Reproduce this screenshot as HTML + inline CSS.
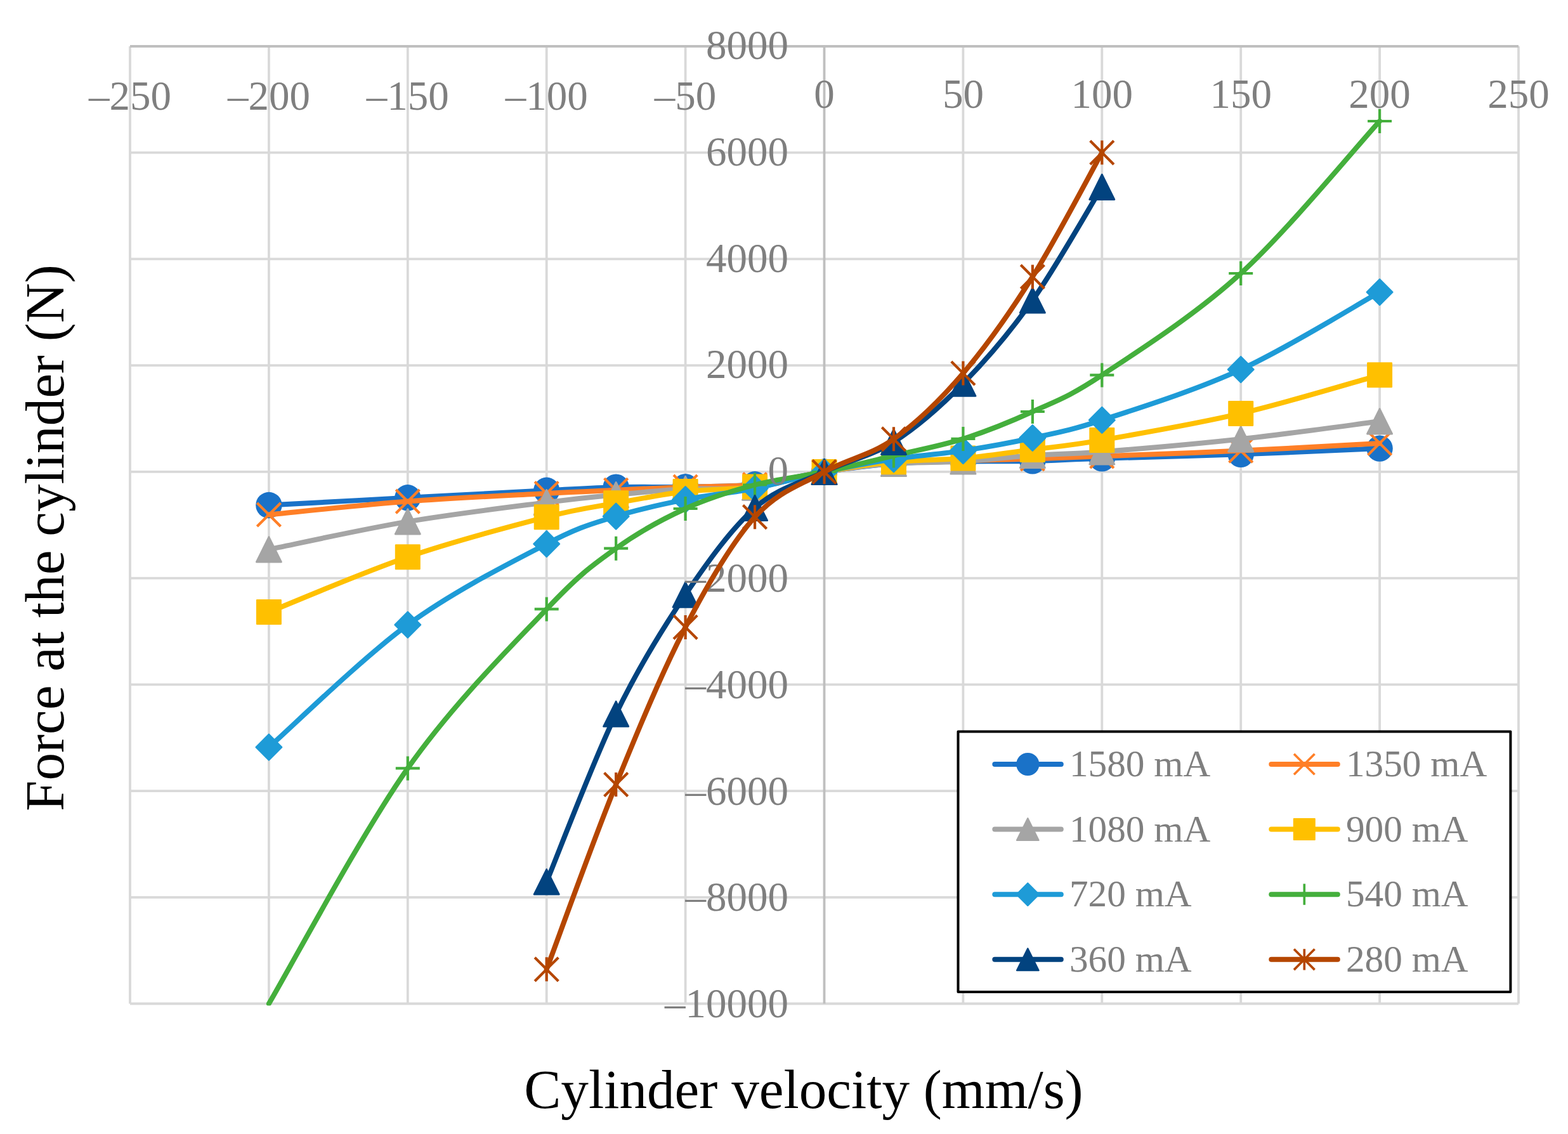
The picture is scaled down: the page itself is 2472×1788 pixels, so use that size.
<!DOCTYPE html><html><head><meta charset="utf-8"><title>Force vs velocity</title><style>html,body{margin:0;padding:0;background:#fff;overflow:hidden;}svg{display:block;}text{font-family:"Liberation Serif", "Times New Roman", serif;}</style></head><body>
<svg width="2472" height="1788" viewBox="0 0 2472 1788">
<rect width="2472" height="1788" fill="#fff"/>
<path d="M205.00,73.00V1582.50M423.90,73.00V1582.50M642.80,73.00V1582.50M861.70,73.00V1582.50M1080.60,73.00V1582.50M1518.40,73.00V1582.50M1737.30,73.00V1582.50M1956.20,73.00V1582.50M2175.10,73.00V1582.50M2394.00,73.00V1582.50M205.00,240.72H2394.00M205.00,408.44H2394.00M205.00,576.17H2394.00M205.00,743.89H2394.00M205.00,911.61H2394.00M205.00,1079.33H2394.00M205.00,1247.06H2394.00M205.00,1414.78H2394.00M205.00,1582.50H2394.00" stroke="#D9D9D9" stroke-width="3.80" fill="none"/>
<path d="M1299.50,73.00V1582.50 M205.00,73.00H2394.00" stroke="#BFBFBF" stroke-width="3.80" fill="none"/>
<defs><clipPath id="pa"><rect x="175.00" y="43.00" width="2249.00" height="1542.50"/></clipPath></defs>
<path d="M423.90,796.50 C460.38,794.55 569.83,788.67 642.80,784.80 C715.77,780.93 806.98,776.07 861.70,773.30 C916.43,770.53 934.67,769.13 971.15,768.20 C1007.63,767.27 1044.12,768.43 1080.60,767.70 C1117.08,766.97 1153.57,767.75 1190.05,763.80 C1226.53,759.85 1263.02,749.47 1299.50,744.00 C1335.98,738.53 1372.47,733.75 1408.95,731.00 C1445.43,728.25 1481.92,728.18 1518.40,727.50 C1554.88,726.82 1591.37,727.68 1627.85,726.90 C1664.33,726.12 1682.57,724.57 1737.30,722.80 C1792.03,721.03 1883.23,718.92 1956.20,716.30 C2029.17,713.68 2138.62,708.63 2175.10,707.10" stroke="#1A72C8" stroke-width="8" fill="none" stroke-linecap="round" stroke-linejoin="round" clip-path="url(#pa)"/>
<circle cx="423.90" cy="796.50" r="20.70" fill="#1A72C8"/><circle cx="642.80" cy="784.80" r="20.70" fill="#1A72C8"/><circle cx="861.70" cy="773.30" r="20.70" fill="#1A72C8"/><circle cx="971.15" cy="768.20" r="20.70" fill="#1A72C8"/><circle cx="1080.60" cy="767.70" r="20.70" fill="#1A72C8"/><circle cx="1190.05" cy="763.80" r="20.70" fill="#1A72C8"/><circle cx="1299.50" cy="744.00" r="20.70" fill="#1A72C8"/><circle cx="1408.95" cy="731.00" r="20.70" fill="#1A72C8"/><circle cx="1518.40" cy="727.50" r="20.70" fill="#1A72C8"/><circle cx="1627.85" cy="726.90" r="20.70" fill="#1A72C8"/><circle cx="1737.30" cy="722.80" r="20.70" fill="#1A72C8"/><circle cx="1956.20" cy="716.30" r="20.70" fill="#1A72C8"/><circle cx="2175.10" cy="707.10" r="20.70" fill="#1A72C8"/>
<path d="M423.90,811.50 C460.38,808.02 569.83,796.18 642.80,790.60 C715.77,785.02 806.98,780.97 861.70,778.00 C916.43,775.03 934.67,774.52 971.15,772.80 C1007.63,771.08 1044.12,769.17 1080.60,767.70 C1117.08,766.23 1153.57,767.95 1190.05,764.00 C1226.53,760.05 1263.02,749.67 1299.50,744.00 C1335.98,738.33 1372.47,732.92 1408.95,730.00 C1445.43,727.08 1481.92,727.58 1518.40,726.50 C1554.88,725.42 1591.37,724.70 1627.85,723.50 C1664.33,722.30 1682.57,721.45 1737.30,719.30 C1792.03,717.15 1883.23,714.00 1956.20,710.60 C2029.17,707.20 2138.62,700.85 2175.10,698.90" stroke="#FF7F27" stroke-width="8" fill="none" stroke-linecap="round" stroke-linejoin="round" clip-path="url(#pa)"/>
<path d="M405.30,792.90 L442.50,830.10 M405.30,830.10 L442.50,792.90" stroke="#FF7F27" stroke-width="4.20" fill="none"/><path d="M624.20,772.00 L661.40,809.20 M624.20,809.20 L661.40,772.00" stroke="#FF7F27" stroke-width="4.20" fill="none"/><path d="M843.10,759.40 L880.30,796.60 M843.10,796.60 L880.30,759.40" stroke="#FF7F27" stroke-width="4.20" fill="none"/><path d="M952.55,754.20 L989.75,791.40 M952.55,791.40 L989.75,754.20" stroke="#FF7F27" stroke-width="4.20" fill="none"/><path d="M1062.00,749.10 L1099.20,786.30 M1062.00,786.30 L1099.20,749.10" stroke="#FF7F27" stroke-width="4.20" fill="none"/><path d="M1171.45,745.40 L1208.65,782.60 M1171.45,782.60 L1208.65,745.40" stroke="#FF7F27" stroke-width="4.20" fill="none"/><path d="M1280.90,725.40 L1318.10,762.60 M1280.90,762.60 L1318.10,725.40" stroke="#FF7F27" stroke-width="4.20" fill="none"/><path d="M1390.35,711.40 L1427.55,748.60 M1390.35,748.60 L1427.55,711.40" stroke="#FF7F27" stroke-width="4.20" fill="none"/><path d="M1499.80,707.90 L1537.00,745.10 M1499.80,745.10 L1537.00,707.90" stroke="#FF7F27" stroke-width="4.20" fill="none"/><path d="M1609.25,704.90 L1646.45,742.10 M1609.25,742.10 L1646.45,704.90" stroke="#FF7F27" stroke-width="4.20" fill="none"/><path d="M1718.70,700.70 L1755.90,737.90 M1718.70,737.90 L1755.90,700.70" stroke="#FF7F27" stroke-width="4.20" fill="none"/><path d="M1937.60,692.00 L1974.80,729.20 M1937.60,729.20 L1974.80,692.00" stroke="#FF7F27" stroke-width="4.20" fill="none"/><path d="M2156.50,680.30 L2193.70,717.50 M2156.50,717.50 L2193.70,680.30" stroke="#FF7F27" stroke-width="4.20" fill="none"/>
<path d="M423.90,866.30 C460.38,858.98 569.83,834.77 642.80,822.40 C715.77,810.03 806.98,799.15 861.70,792.10 C916.43,785.05 934.67,783.62 971.15,780.10 C1007.63,776.58 1044.12,772.92 1080.60,771.00 C1117.08,769.08 1153.57,773.10 1190.05,768.60 C1226.53,764.10 1263.02,750.27 1299.50,744.00 C1335.98,737.73 1372.47,733.75 1408.95,731.00 C1445.43,728.25 1481.92,729.67 1518.40,727.50 C1554.88,725.33 1591.37,720.53 1627.85,718.00 C1664.33,715.47 1682.57,716.58 1737.30,712.30 C1792.03,708.02 1883.23,700.30 1956.20,692.30 C2029.17,684.30 2138.62,668.97 2175.10,664.30" stroke="#A5A5A5" stroke-width="8" fill="none" stroke-linecap="round" stroke-linejoin="round" clip-path="url(#pa)"/>
<path d="M423.90,846.60 L443.50,886.00 L404.30,886.00 Z" fill="#A5A5A5" stroke="#A5A5A5" stroke-width="2.80" stroke-linejoin="round"/><path d="M642.80,802.70 L662.40,842.10 L623.20,842.10 Z" fill="#A5A5A5" stroke="#A5A5A5" stroke-width="2.80" stroke-linejoin="round"/><path d="M861.70,772.40 L881.30,811.80 L842.10,811.80 Z" fill="#A5A5A5" stroke="#A5A5A5" stroke-width="2.80" stroke-linejoin="round"/><path d="M971.15,760.40 L990.75,799.80 L951.55,799.80 Z" fill="#A5A5A5" stroke="#A5A5A5" stroke-width="2.80" stroke-linejoin="round"/><path d="M1080.60,751.30 L1100.20,790.70 L1061.00,790.70 Z" fill="#A5A5A5" stroke="#A5A5A5" stroke-width="2.80" stroke-linejoin="round"/><path d="M1190.05,748.90 L1209.65,788.30 L1170.45,788.30 Z" fill="#A5A5A5" stroke="#A5A5A5" stroke-width="2.80" stroke-linejoin="round"/><path d="M1299.50,724.30 L1319.10,763.70 L1279.90,763.70 Z" fill="#A5A5A5" stroke="#A5A5A5" stroke-width="2.80" stroke-linejoin="round"/><path d="M1408.95,711.30 L1428.55,750.70 L1389.35,750.70 Z" fill="#A5A5A5" stroke="#A5A5A5" stroke-width="2.80" stroke-linejoin="round"/><path d="M1518.40,707.80 L1538.00,747.20 L1498.80,747.20 Z" fill="#A5A5A5" stroke="#A5A5A5" stroke-width="2.80" stroke-linejoin="round"/><path d="M1627.85,698.30 L1647.45,737.70 L1608.25,737.70 Z" fill="#A5A5A5" stroke="#A5A5A5" stroke-width="2.80" stroke-linejoin="round"/><path d="M1737.30,692.60 L1756.90,732.00 L1717.70,732.00 Z" fill="#A5A5A5" stroke="#A5A5A5" stroke-width="2.80" stroke-linejoin="round"/><path d="M1956.20,672.60 L1975.80,712.00 L1936.60,712.00 Z" fill="#A5A5A5" stroke="#A5A5A5" stroke-width="2.80" stroke-linejoin="round"/><path d="M2175.10,644.60 L2194.70,684.00 L2155.50,684.00 Z" fill="#A5A5A5" stroke="#A5A5A5" stroke-width="2.80" stroke-linejoin="round"/>
<path d="M423.90,965.00 C460.38,950.55 569.83,903.27 642.80,878.30 C715.77,853.33 806.98,829.37 861.70,815.20 C916.43,801.03 934.67,800.00 971.15,793.30 C1007.63,786.60 1044.12,779.30 1080.60,775.00 C1117.08,770.70 1153.57,772.67 1190.05,767.50 C1226.53,762.33 1263.02,750.53 1299.50,744.00 C1335.98,737.47 1372.47,731.88 1408.95,728.30 C1445.43,724.72 1481.92,725.73 1518.40,722.50 C1554.88,719.27 1591.37,713.67 1627.85,708.90 C1664.33,704.13 1682.57,703.40 1737.30,693.90 C1792.03,684.40 1883.23,669.00 1956.20,651.90 C2029.17,634.80 2138.62,601.40 2175.10,591.30" stroke="#FFC000" stroke-width="8" fill="none" stroke-linecap="round" stroke-linejoin="round" clip-path="url(#pa)"/>
<rect x="405.10" y="946.20" width="37.60" height="37.60" fill="#FFC000" stroke="#FFC000" stroke-width="2.40" stroke-linejoin="round"/><rect x="624.00" y="859.50" width="37.60" height="37.60" fill="#FFC000" stroke="#FFC000" stroke-width="2.40" stroke-linejoin="round"/><rect x="842.90" y="796.40" width="37.60" height="37.60" fill="#FFC000" stroke="#FFC000" stroke-width="2.40" stroke-linejoin="round"/><rect x="952.35" y="774.50" width="37.60" height="37.60" fill="#FFC000" stroke="#FFC000" stroke-width="2.40" stroke-linejoin="round"/><rect x="1061.80" y="756.20" width="37.60" height="37.60" fill="#FFC000" stroke="#FFC000" stroke-width="2.40" stroke-linejoin="round"/><rect x="1171.25" y="748.70" width="37.60" height="37.60" fill="#FFC000" stroke="#FFC000" stroke-width="2.40" stroke-linejoin="round"/><rect x="1280.70" y="725.20" width="37.60" height="37.60" fill="#FFC000" stroke="#FFC000" stroke-width="2.40" stroke-linejoin="round"/><rect x="1390.15" y="709.50" width="37.60" height="37.60" fill="#FFC000" stroke="#FFC000" stroke-width="2.40" stroke-linejoin="round"/><rect x="1499.60" y="703.70" width="37.60" height="37.60" fill="#FFC000" stroke="#FFC000" stroke-width="2.40" stroke-linejoin="round"/><rect x="1609.05" y="690.10" width="37.60" height="37.60" fill="#FFC000" stroke="#FFC000" stroke-width="2.40" stroke-linejoin="round"/><rect x="1718.50" y="675.10" width="37.60" height="37.60" fill="#FFC000" stroke="#FFC000" stroke-width="2.40" stroke-linejoin="round"/><rect x="1937.40" y="633.10" width="37.60" height="37.60" fill="#FFC000" stroke="#FFC000" stroke-width="2.40" stroke-linejoin="round"/><rect x="2156.30" y="572.50" width="37.60" height="37.60" fill="#FFC000" stroke="#FFC000" stroke-width="2.40" stroke-linejoin="round"/>
<path d="M423.90,1178.20 C460.38,1146.02 569.83,1038.53 642.80,985.10 C715.77,931.67 806.98,886.10 861.70,857.60 C916.43,829.10 934.67,825.75 971.15,814.10 C1007.63,802.45 1044.12,795.05 1080.60,787.70 C1117.08,780.35 1153.57,777.28 1190.05,770.00 C1226.53,762.72 1263.02,751.70 1299.50,744.00 C1335.98,736.30 1372.47,729.37 1408.95,723.80 C1445.43,718.23 1481.92,716.15 1518.40,710.60 C1554.88,705.05 1591.37,698.53 1627.85,690.50 C1664.33,682.47 1682.57,680.38 1737.30,662.40 C1792.03,644.42 1883.23,616.23 1956.20,582.60 C2029.17,548.97 2138.62,480.93 2175.10,460.60" stroke="#1E9BD7" stroke-width="8" fill="none" stroke-linecap="round" stroke-linejoin="round" clip-path="url(#pa)"/>
<path d="M423.90,1158.00 L444.10,1178.20 L423.90,1198.40 L403.70,1178.20 Z" fill="#1E9BD7" stroke="#1E9BD7" stroke-width="2.60" stroke-linejoin="round"/><path d="M642.80,964.90 L663.00,985.10 L642.80,1005.30 L622.60,985.10 Z" fill="#1E9BD7" stroke="#1E9BD7" stroke-width="2.60" stroke-linejoin="round"/><path d="M861.70,837.40 L881.90,857.60 L861.70,877.80 L841.50,857.60 Z" fill="#1E9BD7" stroke="#1E9BD7" stroke-width="2.60" stroke-linejoin="round"/><path d="M971.15,793.90 L991.35,814.10 L971.15,834.30 L950.95,814.10 Z" fill="#1E9BD7" stroke="#1E9BD7" stroke-width="2.60" stroke-linejoin="round"/><path d="M1080.60,767.50 L1100.80,787.70 L1080.60,807.90 L1060.40,787.70 Z" fill="#1E9BD7" stroke="#1E9BD7" stroke-width="2.60" stroke-linejoin="round"/><path d="M1190.05,749.80 L1210.25,770.00 L1190.05,790.20 L1169.85,770.00 Z" fill="#1E9BD7" stroke="#1E9BD7" stroke-width="2.60" stroke-linejoin="round"/><path d="M1299.50,723.80 L1319.70,744.00 L1299.50,764.20 L1279.30,744.00 Z" fill="#1E9BD7" stroke="#1E9BD7" stroke-width="2.60" stroke-linejoin="round"/><path d="M1408.95,703.60 L1429.15,723.80 L1408.95,744.00 L1388.75,723.80 Z" fill="#1E9BD7" stroke="#1E9BD7" stroke-width="2.60" stroke-linejoin="round"/><path d="M1518.40,690.40 L1538.60,710.60 L1518.40,730.80 L1498.20,710.60 Z" fill="#1E9BD7" stroke="#1E9BD7" stroke-width="2.60" stroke-linejoin="round"/><path d="M1627.85,670.30 L1648.05,690.50 L1627.85,710.70 L1607.65,690.50 Z" fill="#1E9BD7" stroke="#1E9BD7" stroke-width="2.60" stroke-linejoin="round"/><path d="M1737.30,642.20 L1757.50,662.40 L1737.30,682.60 L1717.10,662.40 Z" fill="#1E9BD7" stroke="#1E9BD7" stroke-width="2.60" stroke-linejoin="round"/><path d="M1956.20,562.40 L1976.40,582.60 L1956.20,602.80 L1936.00,582.60 Z" fill="#1E9BD7" stroke="#1E9BD7" stroke-width="2.60" stroke-linejoin="round"/><path d="M2175.10,440.40 L2195.30,460.60 L2175.10,480.80 L2154.90,460.60 Z" fill="#1E9BD7" stroke="#1E9BD7" stroke-width="2.60" stroke-linejoin="round"/>
<path d="M423.90,1582.50 C460.38,1520.65 569.83,1315.08 642.80,1211.40 C715.77,1107.72 806.98,1018.18 861.70,960.40 C916.43,902.62 934.67,891.10 971.15,864.70 C1007.63,838.30 1044.12,818.70 1080.60,802.00 C1117.08,785.30 1153.57,774.17 1190.05,764.50 C1226.53,754.83 1263.02,751.67 1299.50,744.00 C1335.98,736.33 1372.47,727.18 1408.95,718.50 C1445.43,709.82 1481.92,703.48 1518.40,691.90 C1554.88,680.32 1591.37,665.75 1627.85,649.00 C1664.33,632.25 1682.57,627.73 1737.30,591.40 C1792.03,555.07 1883.23,497.73 1956.20,431.00 C2029.17,364.27 2138.62,231.00 2175.10,191.00" stroke="#44AF3C" stroke-width="8" fill="none" stroke-linecap="round" stroke-linejoin="round" clip-path="url(#pa)"/>
<path d="M623.80,1211.40 L661.80,1211.40 M642.80,1192.40 L642.80,1230.40" stroke="#44AF3C" stroke-width="4.20" fill="none"/><path d="M842.70,960.40 L880.70,960.40 M861.70,941.40 L861.70,979.40" stroke="#44AF3C" stroke-width="4.20" fill="none"/><path d="M952.15,864.70 L990.15,864.70 M971.15,845.70 L971.15,883.70" stroke="#44AF3C" stroke-width="4.20" fill="none"/><path d="M1061.60,802.00 L1099.60,802.00 M1080.60,783.00 L1080.60,821.00" stroke="#44AF3C" stroke-width="4.20" fill="none"/><path d="M1171.05,764.50 L1209.05,764.50 M1190.05,745.50 L1190.05,783.50" stroke="#44AF3C" stroke-width="4.20" fill="none"/><path d="M1280.50,744.00 L1318.50,744.00 M1299.50,725.00 L1299.50,763.00" stroke="#44AF3C" stroke-width="4.20" fill="none"/><path d="M1389.95,718.50 L1427.95,718.50 M1408.95,699.50 L1408.95,737.50" stroke="#44AF3C" stroke-width="4.20" fill="none"/><path d="M1499.40,691.90 L1537.40,691.90 M1518.40,672.90 L1518.40,710.90" stroke="#44AF3C" stroke-width="4.20" fill="none"/><path d="M1608.85,649.00 L1646.85,649.00 M1627.85,630.00 L1627.85,668.00" stroke="#44AF3C" stroke-width="4.20" fill="none"/><path d="M1718.30,591.40 L1756.30,591.40 M1737.30,572.40 L1737.30,610.40" stroke="#44AF3C" stroke-width="4.20" fill="none"/><path d="M1937.20,431.00 L1975.20,431.00 M1956.20,412.00 L1956.20,450.00" stroke="#44AF3C" stroke-width="4.20" fill="none"/><path d="M2156.10,191.00 L2194.10,191.00 M2175.10,172.00 L2175.10,210.00" stroke="#44AF3C" stroke-width="4.20" fill="none"/>
<path d="M861.70,1390.50 C879.94,1346.37 934.67,1201.17 971.15,1125.70 C1007.63,1050.23 1044.12,991.82 1080.60,937.70 C1117.08,883.58 1153.57,833.28 1190.05,801.00 C1226.53,768.72 1263.02,761.37 1299.50,744.00 C1335.98,726.63 1372.47,720.03 1408.95,696.80 C1445.43,673.57 1481.92,641.82 1518.40,604.60 C1554.88,567.38 1591.37,525.12 1627.85,473.50 C1664.33,421.88 1719.06,324.67 1737.30,294.90" stroke="#02437F" stroke-width="8" fill="none" stroke-linecap="round" stroke-linejoin="round" clip-path="url(#pa)"/>
<path d="M861.70,1370.80 L881.30,1410.20 L842.10,1410.20 Z" fill="#02437F" stroke="#02437F" stroke-width="2.80" stroke-linejoin="round"/><path d="M971.15,1106.00 L990.75,1145.40 L951.55,1145.40 Z" fill="#02437F" stroke="#02437F" stroke-width="2.80" stroke-linejoin="round"/><path d="M1080.60,918.00 L1100.20,957.40 L1061.00,957.40 Z" fill="#02437F" stroke="#02437F" stroke-width="2.80" stroke-linejoin="round"/><path d="M1190.05,781.30 L1209.65,820.70 L1170.45,820.70 Z" fill="#02437F" stroke="#02437F" stroke-width="2.80" stroke-linejoin="round"/><path d="M1299.50,724.30 L1319.10,763.70 L1279.90,763.70 Z" fill="#02437F" stroke="#02437F" stroke-width="2.80" stroke-linejoin="round"/><path d="M1408.95,677.10 L1428.55,716.50 L1389.35,716.50 Z" fill="#02437F" stroke="#02437F" stroke-width="2.80" stroke-linejoin="round"/><path d="M1518.40,584.90 L1538.00,624.30 L1498.80,624.30 Z" fill="#02437F" stroke="#02437F" stroke-width="2.80" stroke-linejoin="round"/><path d="M1627.85,453.80 L1647.45,493.20 L1608.25,493.20 Z" fill="#02437F" stroke="#02437F" stroke-width="2.80" stroke-linejoin="round"/><path d="M1737.30,275.20 L1756.90,314.60 L1717.70,314.60 Z" fill="#02437F" stroke="#02437F" stroke-width="2.80" stroke-linejoin="round"/>
<g font-size="65.0" fill="#7F7F7F"><text x="205.00" y="172.70" text-anchor="middle">–250</text><text x="423.90" y="172.70" text-anchor="middle">–200</text><text x="642.80" y="172.70" text-anchor="middle">–150</text><text x="861.70" y="172.70" text-anchor="middle">–100</text><text x="1080.60" y="172.70" text-anchor="middle">–50</text><text x="1299.50" y="169.60" text-anchor="middle">0</text><text x="1518.40" y="169.60" text-anchor="middle">50</text><text x="1737.30" y="169.60" text-anchor="middle">100</text><text x="1956.20" y="169.60" text-anchor="middle">150</text><text x="2175.10" y="169.60" text-anchor="middle">200</text><text x="2394.00" y="169.60" text-anchor="middle">250</text><text x="1243.06" y="93.10" text-anchor="end">8000</text><text x="1243.06" y="260.82" text-anchor="end">6000</text><text x="1243.06" y="428.54" text-anchor="end">4000</text><text x="1243.06" y="596.27" text-anchor="end">2000</text><text x="1243.06" y="763.99" text-anchor="end">0</text><text x="1243.06" y="933.26" text-anchor="end">–2000</text><text x="1243.06" y="1100.98" text-anchor="end">–4000</text><text x="1243.06" y="1268.71" text-anchor="end">–6000</text><text x="1243.06" y="1436.43" text-anchor="end">–8000</text><text x="1243.06" y="1604.15" text-anchor="end">–10000</text></g>
<path d="M861.70,1528.30 C879.94,1479.75 934.67,1326.90 971.15,1237.00 C1007.63,1147.10 1044.12,1059.20 1080.60,988.90 C1117.08,918.60 1153.57,856.02 1190.05,815.20 C1226.53,774.38 1263.02,764.48 1299.50,744.00 C1335.98,723.52 1372.47,718.22 1408.95,692.30 C1445.43,666.38 1481.92,631.15 1518.40,588.50 C1554.88,545.85 1591.37,494.38 1627.85,436.40 C1664.33,378.42 1719.06,273.23 1737.30,240.60" stroke="#B54600" stroke-width="8" fill="none" stroke-linecap="round" stroke-linejoin="round" clip-path="url(#pa)"/>
<path d="M843.10,1509.70 L880.30,1546.90 M843.10,1546.90 L880.30,1509.70 M861.70,1509.30 L861.70,1547.30" stroke="#B54600" stroke-width="4.20" fill="none"/><path d="M952.55,1218.40 L989.75,1255.60 M952.55,1255.60 L989.75,1218.40 M971.15,1218.00 L971.15,1256.00" stroke="#B54600" stroke-width="4.20" fill="none"/><path d="M1062.00,970.30 L1099.20,1007.50 M1062.00,1007.50 L1099.20,970.30 M1080.60,969.90 L1080.60,1007.90" stroke="#B54600" stroke-width="4.20" fill="none"/><path d="M1171.45,796.60 L1208.65,833.80 M1171.45,833.80 L1208.65,796.60 M1190.05,796.20 L1190.05,834.20" stroke="#B54600" stroke-width="4.20" fill="none"/><path d="M1280.90,725.40 L1318.10,762.60 M1280.90,762.60 L1318.10,725.40 M1299.50,725.00 L1299.50,763.00" stroke="#B54600" stroke-width="4.20" fill="none"/><path d="M1390.35,673.70 L1427.55,710.90 M1390.35,710.90 L1427.55,673.70 M1408.95,673.30 L1408.95,711.30" stroke="#B54600" stroke-width="4.20" fill="none"/><path d="M1499.80,569.90 L1537.00,607.10 M1499.80,607.10 L1537.00,569.90 M1518.40,569.50 L1518.40,607.50" stroke="#B54600" stroke-width="4.20" fill="none"/><path d="M1609.25,417.80 L1646.45,455.00 M1609.25,455.00 L1646.45,417.80 M1627.85,417.40 L1627.85,455.40" stroke="#B54600" stroke-width="4.20" fill="none"/><path d="M1718.70,222.00 L1755.90,259.20 M1718.70,259.20 L1755.90,222.00 M1737.30,221.60 L1737.30,259.60" stroke="#B54600" stroke-width="4.20" fill="none"/>
<rect x="1510.50" y="1153.50" width="870.90" height="410.40" fill="#fff" stroke="#000" stroke-width="4" stroke-linejoin="round"/>
<path d="M1568.30,1205.00H1672.80" stroke="#1A72C8" stroke-width="8" stroke-linecap="round"/>
<circle cx="1620.30" cy="1205.00" r="18.11" fill="#1A72C8"/>
<path d="M2004.30,1205.00H2108.80" stroke="#FF7F27" stroke-width="8" stroke-linecap="round"/>
<path d="M2040.03,1188.72 L2072.58,1221.28 M2040.03,1221.28 L2072.58,1188.72" stroke="#FF7F27" stroke-width="3.68" fill="none"/>
<path d="M1568.30,1307.60H1672.80" stroke="#A5A5A5" stroke-width="8" stroke-linecap="round"/>
<path d="M1620.30,1290.36 L1637.45,1324.84 L1603.15,1324.84 Z" fill="#A5A5A5" stroke="#A5A5A5" stroke-width="2.45" stroke-linejoin="round"/>
<path d="M2004.30,1307.60H2108.80" stroke="#FFC000" stroke-width="8" stroke-linecap="round"/>
<rect x="2039.85" y="1291.15" width="32.90" height="32.90" fill="#FFC000" stroke="#FFC000" stroke-width="2.10" stroke-linejoin="round"/>
<path d="M1568.30,1410.20H1672.80" stroke="#1E9BD7" stroke-width="8" stroke-linecap="round"/>
<path d="M1620.30,1392.53 L1637.97,1410.20 L1620.30,1427.88 L1602.62,1410.20 Z" fill="#1E9BD7" stroke="#1E9BD7" stroke-width="2.27" stroke-linejoin="round"/>
<path d="M2004.30,1410.20H2108.80" stroke="#44AF3C" stroke-width="8" stroke-linecap="round"/>
<path d="M2039.68,1410.20 L2072.93,1410.20 M2056.30,1393.58 L2056.30,1426.83" stroke="#44AF3C" stroke-width="3.68" fill="none"/>
<path d="M1568.30,1512.80H1672.80" stroke="#02437F" stroke-width="8" stroke-linecap="round"/>
<path d="M1620.30,1495.56 L1637.45,1530.04 L1603.15,1530.04 Z" fill="#02437F" stroke="#02437F" stroke-width="2.45" stroke-linejoin="round"/>
<path d="M2004.30,1512.80H2108.80" stroke="#B54600" stroke-width="8" stroke-linecap="round"/>
<path d="M2040.03,1496.52 L2072.58,1529.08 M2040.03,1529.08 L2072.58,1496.52 M2056.30,1496.17 L2056.30,1529.42" stroke="#B54600" stroke-width="3.68" fill="none"/>
<g font-size="59.3" fill="#7F7F7F"><text x="1685.90" y="1223.90">1580 mA</text><text x="2121.90" y="1223.90">1350 mA</text><text x="1685.90" y="1326.50">1080 mA</text><text x="2121.90" y="1326.50">900 mA</text><text x="1685.90" y="1429.10">720 mA</text><text x="2121.90" y="1429.10">540 mA</text><text x="1685.90" y="1531.70">360 mA</text><text x="2121.90" y="1531.70">280 mA</text></g>
<text x="826.22" y="1746.80" font-size="87.2" fill="#000">Cylinder velocity (mm/s)</text>
<text transform="translate(99.7,1279.11) rotate(-90)" font-size="87.2" fill="#000">Force at the cylinder (N)</text>
</svg></body></html>
